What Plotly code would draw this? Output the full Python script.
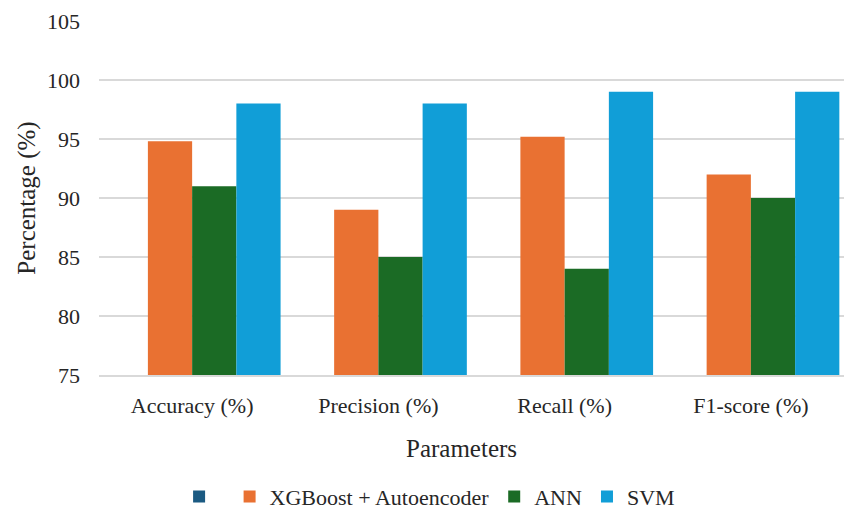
import plotly.graph_objects as go

categories = ["Accuracy (%)", "Precision (%)", "Recall (%)", "F1-score (%)"]
series_names = [" ", "XGBoost + Autoencoder", "ANN", "SVM"]
blank_vals = [0, 0, 0, 0]
xgb_vals = [94.8, 89, 95.2, 92]
ann_vals = [91, 85, 84, 90]
svm_vals = [98, 98, 99, 99]
colors = ["#1B5A82", "#E97132", "#1B6B25", "#119ED7"]
y_ticks = [75, 80, 85, 90, 95, 100, 105]

fig = go.Figure()
for name, vals, c in zip(series_names, [blank_vals, xgb_vals, ann_vals, svm_vals], colors):
    fig.add_trace(go.Bar(x=categories, y=vals, name=name, marker_color=c,
                         marker_line_width=0))

font = "'Times New Roman', 'Liberation Serif', serif"
txt = "#262626"
fig.update_layout(
    width=844, height=512,
    barmode="group", bargap=0.05, bargroupgap=0,
    plot_bgcolor="white", paper_bgcolor="white",
    margin=dict(l=99, r=0, t=21, b=137, autoexpand=False),
    font=dict(family=font, size=22, color=txt),
    showlegend=True,
    legend=dict(orientation="h", x=0.509, xanchor="center", xref="container",
                y=0.03, yanchor="middle", yref="container",
                font=dict(family=font, size=22, color=txt), itemwidth=30,
                tracegroupgap=0, traceorder="normal"),
    xaxis=dict(showgrid=False, showline=True, linecolor="#d9d9d9", linewidth=1.5,
               ticks="outside", ticklen=10, tickcolor="rgba(0,0,0,0)",
               tickfont=dict(family=font, size=22, color=txt)),
    yaxis=dict(range=[75, 105], tickvals=y_ticks, showgrid=True, gridcolor="#d9d9d9",
               gridwidth=1.5, zeroline=False, showline=False,
               ticklabelstandoff=18,
               tickfont=dict(family=font, size=22, color=txt),
               title=dict(text="Percentage (%)", font=dict(family=font, size=25, color=txt), standoff=4)),
    annotations=[dict(text="Parameters", xref="paper", yref="paper", x=0.486, y=-0.209,
                      xanchor="center", yanchor="middle", showarrow=False,
                      font=dict(family=font, size=25, color=txt))],
)
fig.write_html("out.html", post_script="document.body.style.margin='0';",
               config={"displayModeBar": False})
